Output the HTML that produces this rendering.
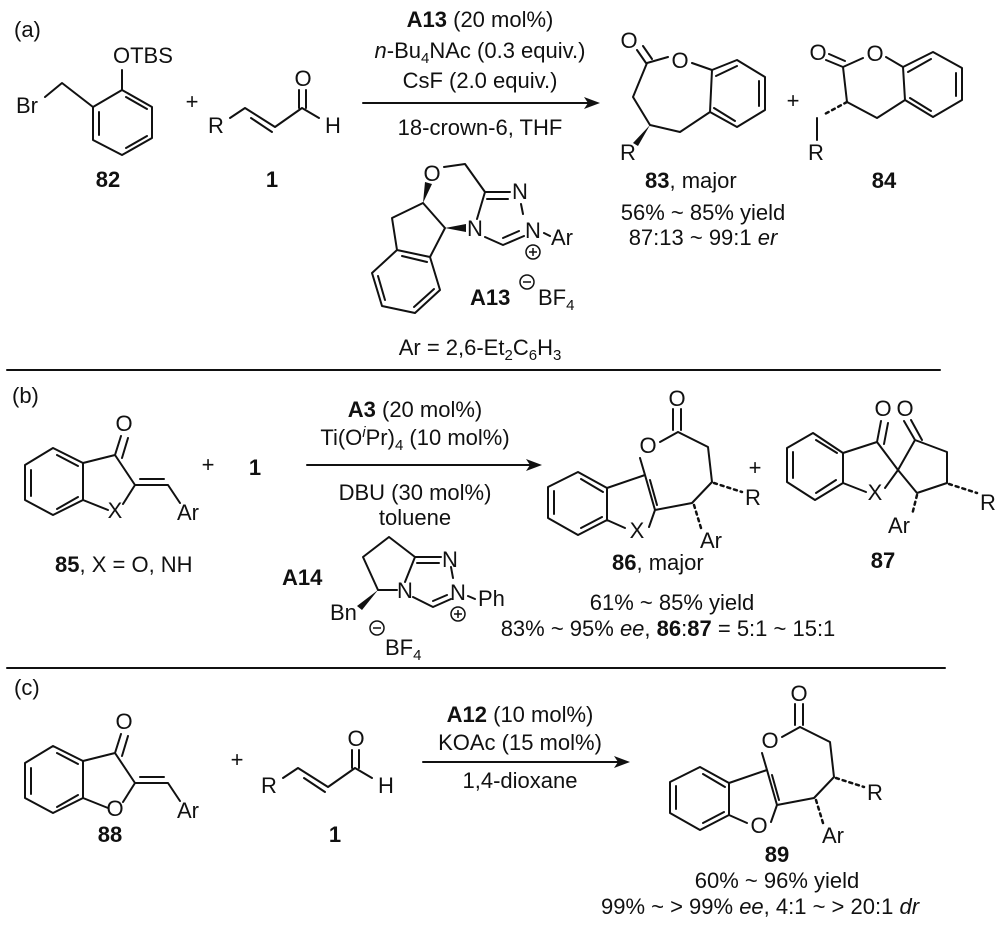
<!DOCTYPE html>
<html><head><meta charset="utf-8"><style>
html,body{margin:0;padding:0;background:#fff;}
svg{display:block;}
text{font-family:"Liberation Sans",Arial,sans-serif;font-size:22px;fill:#111;}
.b{font-weight:bold;}
.s{font-size:15px;}
</style></head><body>
<svg width="1000" height="929" viewBox="0 0 1000 929" xmlns="http://www.w3.org/2000/svg">
<g stroke="#111" stroke-width="2" fill="none" stroke-linecap="round" stroke-linejoin="round">
<!-- 82 -->
<path d="M122,70 L122,90 M122,90 L152,107 L152,138 L122,155 L93,140 L93,107 Z M93,107 L62,83 L45,97"/>
<path d="M126,97 L147,109 M147,136 L126,148 M99,135 L99,112"/>
<!-- 1 (a) -->
<path d="M230,118 L245,108 L275,127 L302,108 L319,118 M251,118 L272,132 M299,108 L299,90 M306,108 L306,90"/>
<!-- arrow a -->
<path d="M363,103 L588,103"/>
<!-- A13 -->
<path d="M444,167 L465,164 L485,192 L510,192 M487,199 L508,199 M485,192 L477,219 M521,204 L523,214 M544,233 L550,236 M485,237 L503,245 L524,236 M503,238 L519,231"/>
<path d="M423,203 L445,228 M423,203 L392,218 L397,250 M445,228 L430,257 M397,250 L430,257 L440,290 L415,313 L382,306 L372,273 Z M402,256 L427,262 M434,289 L414,307 M385,300 L378,276"/>
<!-- 83 -->
<path d="M637,50 L646,63 M643,46 L652,59 M647,63 L668,57 M692,63 L712,70 M712,70 L737,60 L765,77 L765,110 L737,127 L710,112 Z M710,112 L680,132 L650,125 L633,97 L647,63 M716,76 L737,66 M759,81 L759,106 M735,121 L714,108"/>
<!-- 84 -->
<path d="M826,60 L843,67 M829,54 L845,61 M843,67 L863,58 M886,57 L903,67 M903,67 L933,52 L962,68 L962,100 L933,117 L905,100 Z M905,100 L877,118 L847,102 L843,67 M817,118 L817,140 M908,72 L931,59 M956,73 L956,96 M931,111 L910,98"/>
<!-- line -->
<path d="M7,370 L940,370"/>
<!-- 85 -->
<path d="M83,463 L53,448 L25,465 L25,500 L53,515 L83,500 Z M83,463 L115,455 L135,485 L123,504 M108,510 L83,500 M135,485 L168,485 L180,503 M140,479 L164,479 M115,455 L121,436 M122,458 L128,438 M57,455 L78,466 M31,470 L31,496 M57,509 L78,497"/>
<!-- arrow b -->
<path d="M307,465 L530,465"/>
<!-- A14 -->
<path d="M389,537 L415,557 L405,582 M389,537 L363,557 L378,590 L397,590 M415,557 L441,557 M417,563 L439,563 M451,567 L453,578 M468,596 L475,599 M413,597 L433,607 L451,599 M433,601 L447,595"/>
<!-- 86 -->
<path d="M673,409 L673,430 M681,409 L681,430 M678,432 L660,442 M678,432 L708,447 L712,482 L692,503 L655,510 L645,475 L640,458 M645,475 L607,488 M607,488 L578,472 L548,487 L548,518 L578,535 L607,520 Z M607,520 L625,528 M649,527 L655,510 M650,480 L657,505 M554,491 L554,514 M581,528 L602,517 M603,492 L581,479"/>
<!-- 87 -->
<path d="M843,453 L813,433 L787,448 L787,482 L815,500 L843,483 Z M843,453 L877,442 L898,470 L885,488 M866,492 L843,483 M898,470 L915,440 L947,452 L947,483 L917,493 Z M877,442 L881,421 M884,444 L888,423 M915,440 L904,421 M922,440 L911,420 M816,440 L837,453 M793,452 L793,478 M816,493 L836,480"/>
<path d="M7,668 L945,668"/>
<!-- 88 -->
<g transform="translate(0,298)">
<path d="M83,463 L53,448 L25,465 L25,500 L53,515 L83,500 Z M83,463 L115,455 L135,485 L123,504 M108,510 L83,500 M135,485 L168,485 L180,503 M140,479 L164,479 M115,455 L121,436 M122,458 L128,438 M57,455 L78,466 M31,470 L31,496 M57,509 L78,497"/>
</g>
<!-- 1 (c) -->
<g transform="translate(53,660)">
<path d="M230,118 L245,108 L275,127 L302,108 L319,118 M251,118 L272,132 M299,108 L299,90 M306,108 L306,90"/>
</g>
<path d="M423,762 L618,762"/>
<!-- 89 -->
<g transform="translate(122,295)">
<path d="M673,409 L673,430 M681,409 L681,430 M678,432 L660,442 M678,432 L708,447 L712,482 L692,503 L655,510 L645,475 L640,458 M645,475 L607,488 M607,488 L578,472 L548,487 L548,518 L578,535 L607,520 Z M607,520 L625,528 M649,527 L655,510 M650,480 L657,505 M554,491 L554,514 M581,528 L602,517 M603,492 L581,479"/>
</g>
<!-- hashes -->
<g stroke-width="2.5" stroke-dasharray="3,4">
<path d="M847,102 L823,115"/>
<path d="M714,483 L742,492 M694,505 L701,528"/>
<path d="M949,484 L977,493 M917,495 L912,515"/>
<path d="M836,778 L864,787 M816,800 L823,823"/>
</g>
</g>
<!-- arrowheads and wedges -->
<g fill="#111">
<polygon points="600,103 584,97 588,103 584,109"/>
<polygon points="542,465 526,459 530,465 526,471"/>
<polygon points="630,762 614,756 618,762 614,768"/>
<polygon points="423,203 425,182 432,184"/>
<polygon points="445,228 466,224 466,232"/>
<polygon points="650,125 633,143 638,146"/>
<polygon points="378,590 357,606 362,610"/>
</g>
<!-- text -->
<text x="14" y="37">(a)</text>
<text x="113" y="63">OTBS</text>
<text x="16" y="113">Br</text>
<text class="b" x="108" y="187" text-anchor="middle">82</text>
<text x="192" y="109" text-anchor="middle">+</text>
<text x="208" y="133">R</text>
<text x="303" y="86" text-anchor="middle">O</text>
<text x="325" y="133">H</text>
<text class="b" x="272" y="187" text-anchor="middle">1</text>
<text x="480" y="27" text-anchor="middle"><tspan class="b">A13</tspan> (20 mol%)</text>
<text x="480" y="58" text-anchor="middle"><tspan font-style="italic">n</tspan>-Bu<tspan class="s" dy="5">4</tspan><tspan dy="-5">NAc (0.3 equiv.)</tspan></text>
<text x="480" y="88" text-anchor="middle">CsF (2.0 equiv.)</text>
<text x="480" y="135" text-anchor="middle">18-crown-6, THF</text>
<text x="432" y="181" text-anchor="middle">O</text>
<text x="520" y="199" text-anchor="middle">N</text>
<text x="533" y="238" text-anchor="middle">N</text>
<text x="475" y="236" text-anchor="middle">N</text>
<text x="551" y="245">Ar</text>
<circle cx="533" cy="252" r="7" fill="none" stroke="#111" stroke-width="1.5"/>
<path d="M529,252 L537,252 M533,248 L533,256" stroke="#111" stroke-width="1.5"/>
<text class="b" x="470" y="305">A13</text>
<circle cx="527" cy="282" r="7" fill="none" stroke="#111" stroke-width="1.5"/>
<path d="M523,282 L531,282" stroke="#111" stroke-width="1.5"/>
<text x="538" y="305">BF<tspan class="s" dy="5">4</tspan></text>
<text x="480" y="355" text-anchor="middle">Ar = 2,6-Et<tspan class="s" dy="5">2</tspan><tspan dy="-5">C</tspan><tspan class="s" dy="5">6</tspan><tspan dy="-5">H</tspan><tspan class="s" dy="5">3</tspan></text>
<text x="629" y="48" text-anchor="middle">O</text>
<text x="680" y="68" text-anchor="middle">O</text>
<text x="620" y="160">R</text>
<text x="645" y="188"><tspan class="b">83</tspan>, major</text>
<text x="703" y="220" text-anchor="middle">56% ~ 85% yield</text>
<text x="703" y="245" text-anchor="middle">87:13 ~ 99:1 <tspan font-style="italic">er</tspan></text>
<text x="793" y="108" text-anchor="middle">+</text>
<text x="818" y="60" text-anchor="middle">O</text>
<text x="875" y="61" text-anchor="middle">O</text>
<text x="808" y="160">R</text>
<text class="b" x="884" y="188" text-anchor="middle">84</text>

<text x="12" y="403">(b)</text>
<text x="124" y="431" text-anchor="middle">O</text>
<text x="115" y="518" text-anchor="middle">X</text>
<text x="177" y="520">Ar</text>
<text x="55" y="572"><tspan class="b">85</tspan>, X = O, NH</text>
<text x="208" y="472" text-anchor="middle">+</text>
<text class="b" x="255" y="475" text-anchor="middle">1</text>
<text x="415" y="417" text-anchor="middle"><tspan class="b">A3</tspan> (20 mol%)</text>
<text x="415" y="445" text-anchor="middle">Ti(O<tspan class="s" font-style="italic" dy="-8">i</tspan><tspan dy="8">Pr)</tspan><tspan class="s" dy="5">4</tspan><tspan dy="-5">  (10 mol%)</tspan></text>
<text x="415" y="500" text-anchor="middle">DBU (30 mol%)</text>
<text x="415" y="525" text-anchor="middle">toluene</text>
<text class="b" x="282" y="585">A14</text>
<text x="405" y="598" text-anchor="middle">N</text>
<text x="450" y="567" text-anchor="middle">N</text>
<text x="458" y="600" text-anchor="middle">N</text>
<text x="478" y="606">Ph</text>
<circle cx="458" cy="614" r="7" fill="none" stroke="#111" stroke-width="1.5"/>
<path d="M454,614 L462,614 M458,610 L458,618" stroke="#111" stroke-width="1.5"/>
<text x="330" y="620">Bn</text>
<circle cx="377" cy="628" r="7" fill="none" stroke="#111" stroke-width="1.5"/>
<path d="M373,628 L381,628" stroke="#111" stroke-width="1.5"/>
<text x="385" y="655">BF<tspan class="s" dy="5">4</tspan></text>
<text x="677" y="406" text-anchor="middle">O</text>
<text x="648" y="453" text-anchor="middle">O</text>
<text x="637" y="538" text-anchor="middle">X</text>
<text x="745" y="505">R</text>
<text x="700" y="548">Ar</text>
<text x="612" y="570"><tspan class="b">86</tspan>, major</text>
<text x="755" y="475" text-anchor="middle">+</text>
<text x="883" y="416" text-anchor="middle">O</text>
<text x="905" y="416" text-anchor="middle">O</text>
<text x="875" y="500" text-anchor="middle">X</text>
<text x="980" y="510">R</text>
<text x="888" y="533">Ar</text>
<text class="b" x="883" y="568" text-anchor="middle">87</text>
<text x="672" y="610" text-anchor="middle">61% ~ 85% yield</text>
<text x="668" y="636" text-anchor="middle">83% ~ 95% <tspan font-style="italic">ee</tspan>, <tspan class="b">86</tspan>:<tspan class="b">87</tspan> = 5:1 ~ 15:1</text>

<text x="14" y="695">(c)</text>
<text x="124" y="729" text-anchor="middle">O</text>
<text x="115" y="816" text-anchor="middle">O</text>
<text x="177" y="818">Ar</text>
<text class="b" x="110" y="842" text-anchor="middle">88</text>
<text x="237" y="767" text-anchor="middle">+</text>
<text x="261" y="793">R</text>
<text x="356" y="746" text-anchor="middle">O</text>
<text x="378" y="793">H</text>
<text class="b" x="335" y="842" text-anchor="middle">1</text>
<text x="520" y="722" text-anchor="middle"><tspan class="b">A12</tspan> (10 mol%)</text>
<text x="520" y="750" text-anchor="middle">KOAc (15 mol%)</text>
<text x="520" y="788" text-anchor="middle">1,4-dioxane</text>
<text x="799" y="701" text-anchor="middle">O</text>
<text x="770" y="748" text-anchor="middle">O</text>
<text x="759" y="833" text-anchor="middle">O</text>
<text x="867" y="800">R</text>
<text x="822" y="843">Ar</text>
<text class="b" x="777" y="862" text-anchor="middle">89</text>
<text x="777" y="888" text-anchor="middle">60% ~ 96% yield</text>
<text x="760" y="914" text-anchor="middle">99% ~ &gt; 99% <tspan font-style="italic">ee</tspan>, 4:1 ~ &gt; 20:1 <tspan font-style="italic">dr</tspan></text>
</svg>
</body></html>
